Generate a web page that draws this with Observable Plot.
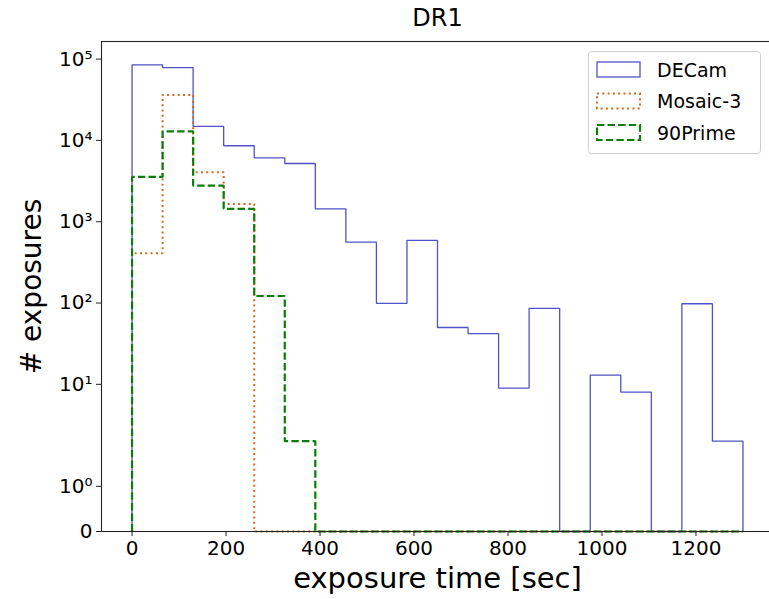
<!DOCTYPE html>
<html>
<head>
<meta charset="utf-8">
<script src="https://cdn.jsdelivr.net/npm/d3@7"></script>
<script src="https://cdn.jsdelivr.net/npm/@observablehq/plot@0.6"></script>
<style>
  body { margin: 0; background: #fff; font-family: "DejaVu Sans", sans-serif; }
  #wrap { position: relative; width: 769px; height: 599px; overflow: hidden; }
  #legend { position: absolute; left: 588px; top: 51px; }
</style>
</head>
<body>
<div id="wrap"></div>
<script>
// ---- data ----
const binEdges = [0, 65, 130, 195, 260, 325, 390, 455, 520, 585, 650, 715, 780, 845, 910, 975, 1040, 1105, 1170, 1235, 1300];
const decamCounts = [85000, 78700, 14900, 8600, 6100, 5200, 1440, 560, 99, 590, 50, 42, 9, 86, 0, 13, 8, 0, 98, 2];
const mosaicCounts = [410, 36300, 4050, 1650, 0, 0, 0, 0, 0, 0, 0, 0, 0, 0, 0, 0, 0, 0, 0, 0];
const prime90Counts = [3550, 12900, 2780, 1440, 122, 2, 0, 0, 0, 0, 0, 0, 0, 0, 0, 0, 0, 0, 0, 0];
const seriesNames = ["DECam", "Mosaic-3", "90Prime"];
const xTickValues = [0, 200, 400, 600, 800, 1000, 1200];
const yTickValues = [0, 1, 10, 100, 1000, 10000, 100000];
const yTickLabels = ["0", "10\u2070", "10\u00b9", "10\u00b2", "10\u00b3", "10\u2074", "10\u2075"];
const titleText = "DR1";
const xLabel = "exposure time [sec]";
const yLabel = "# exposures";

// ---- styles ----
const seriesColors = ["#5252c8", "#d2691e", "#0a7d0a"];
const seriesWidths = [1.3, 2, 2.2];
const seriesDash = [null, "2,3.3", "7.4,3.2"];

// matplotlib-like symlog (linthresh 2, linscale 1, base 10)
const LINTHRESH = 2, LINSCALE = 1 / (1 - 1 / 10);
function symlog(v) {
  return v <= LINTHRESH ? v * LINSCALE / LINTHRESH : LINSCALE + Math.log10(v / LINTHRESH);
}

function stepPoints(counts, name) {
  const pts = [{x: binEdges[0], c: 0, s: name}];
  counts.forEach((c, i) => {
    pts.push({x: binEdges[i], c, s: name});
    pts.push({x: binEdges[i + 1], c, s: name});
  });
  pts.push({x: binEdges[binEdges.length - 1], c: 0, s: name});
  return pts;
}
const allCounts = [decamCounts, mosaicCounts, prime90Counts];
const series = allCounts.map((c, i) => stepPoints(c, seriesNames[i]));

const yMax = symlog(d3.max(allCounts.flat()));
const yLabelMap = new Map(yTickValues.map((v, i) => [symlog(v), yTickLabels[i]]));

const xMin = binEdges[0], xMax = binEdges[binEdges.length - 1];
const xPad = (xMax - xMin) * 0.05;

const lineMarks = series.map((pts, i) => Plot.line(pts, {
  x: "x",
  y: d => symlog(d.c),
  stroke: seriesColors[i],
  strokeWidth: seriesWidths[i],
  strokeDasharray: seriesDash[i],
  strokeLinejoin: "miter",
  strokeLinecap: "butt"
}));

const chart = Plot.plot({
  width: 769,
  height: 599,
  marginLeft: 101,
  marginTop: 41,
  marginBottom: 68,
  marginRight: -4,
  style: {fontFamily: "DejaVu Sans", fontSize: "20px", color: "#000", background: "#fff"},
  x: {domain: [xMin - xPad, xMax + xPad], label: null},
  y: {domain: [0, yMax * 1.05], label: null},
  marks: [
    ...lineMarks,
    Plot.frame({stroke: "#222", strokeWidth: 1.1}),
    Plot.axisX({ticks: xTickValues, tickFormat: d => String(d), tickSize: 5, tickPadding: 4, fontSize: 20, label: null, stroke: "#222"}),
    Plot.axisY({ticks: yTickValues.map(symlog), tickFormat: d => yLabelMap.get(d), tickSize: 5, tickPadding: 4, fontSize: 20, label: null, stroke: "#222"}),
    Plot.text([titleText], {frameAnchor: "top", dy: -23, lineAnchor: "middle", textAnchor: "middle", fontSize: 24, text: d => d}),
    Plot.text([xLabel], {frameAnchor: "bottom", dy: 47, lineAnchor: "middle", textAnchor: "middle", fontSize: 29, text: d => d}),
    Plot.text([yLabel], {frameAnchor: "left", dx: -69, rotate: -90, lineAnchor: "middle", textAnchor: "middle", fontSize: 28, text: d => d})
  ]
});
document.getElementById("wrap").appendChild(chart);

// ---- legend ----
const lg = d3.select("#wrap").append("svg")
  .attr("id", "legend")
  .attr("width", 173).attr("height", 103)
  .style("font-family", "DejaVu Sans");
lg.append("rect").attr("x", 0.5).attr("y", 0.5).attr("width", 172).attr("height", 102)
  .attr("rx", 3).attr("fill", "#fff").attr("fill-opacity", 0.8).attr("stroke", "#d0d0d0");
seriesNames.forEach((name, i) => {
  const g = lg.append("g").attr("transform", `translate(0,${i * 31.5})`);
  g.append("rect").attr("x", 9).attr("y", 11).attr("width", 43).attr("height", 15)
    .attr("fill", "none").attr("stroke", seriesColors[i])
    .attr("stroke-width", seriesWidths[i]).attr("stroke-dasharray", seriesDash[i]);
  g.append("text").attr("x", 69).attr("y", 19).attr("dy", "0.35em")
    .attr("font-size", 19).attr("fill", "#000").text(name);
});
</script>
</body>
</html>
